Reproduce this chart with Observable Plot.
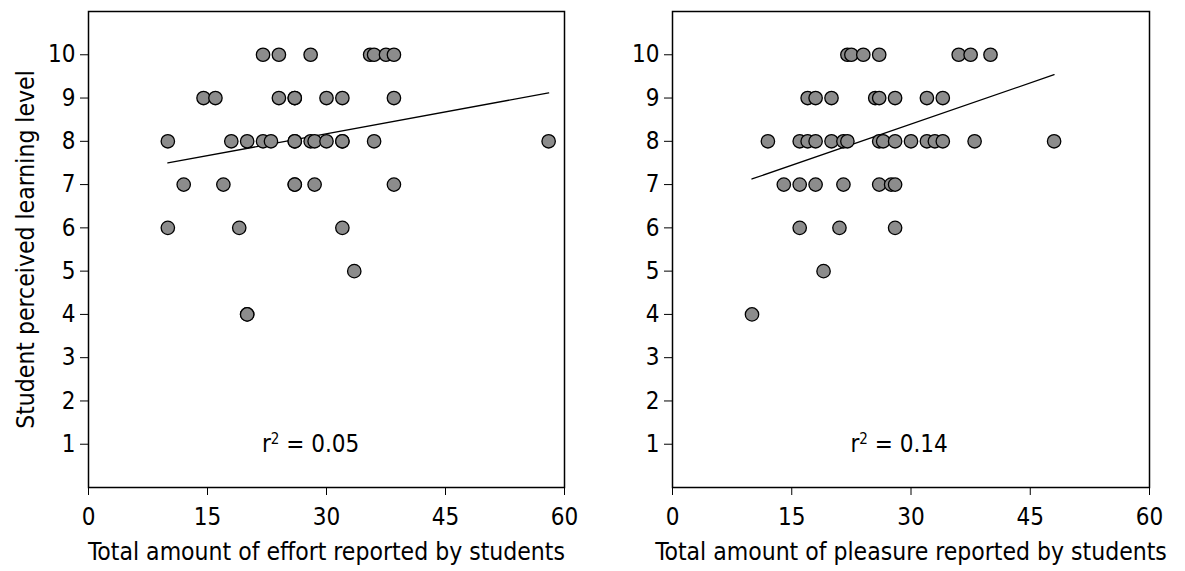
<!DOCTYPE html>
<html><head><meta charset="utf-8">
<script src="https://cdn.jsdelivr.net/npm/d3@7"></script>
<script src="https://cdn.jsdelivr.net/npm/@observablehq/plot@0.6"></script>
<style>
body{margin:0;background:#fff;}
#wrap{display:flex;width:1185px;height:571px;overflow:hidden;}
#wrap svg{display:block;}
</style></head><body><div id="wrap"></div>
<script>
// Panel 1: effort vs perceived learning level
const effortX     = [22,24,28,35.5,36,37.5,38.5, 14.5,16,24,26,26,30,32,38.5, 10,18,20,22,23,26,26,28,28.5,30,32,32,36,58, 12,17,26,26,28.5,38.5, 10,19,32, 33.5, 20,20];
const effortLevel = [10,10,10,10,10,10,10,      9,9,9,9,9,9,9,9,            8,8,8,8,8,8,8,8,8,8,8,8,8,8,            7,7,7,7,7,7,            6,6,6,  5,    4,4];
// Panel 2: pleasure vs perceived learning level
const pleasureX     = [22,22.5,24,26,36,37.5,40, 17,18,20,25.5,26,28,32,34, 12,16,17,18,20,21.5,22,26,26.5,28,30,32,33,34,38,48, 14,16,18,21.5,26,27.5,28, 16,21,28, 19, 10];
const pleasureLevel = [10,10,10,10,10,10,10,     9,9,9,9,9,9,9,9,          8,8,8,8,8,8,8,8,8,8,8,8,8,8,8,8,                7,7,7,7,7,7,7,             6,6,6,    5,  4];
// Fitted regression lines (end points)
const effortFitX = [10, 58];
const effortFitY = [7.5, 9.12];
const pleasureFitX = [10, 48];
const pleasureFitY = [7.13, 9.54];
// Tick labels and texts
const xTicks = [0, 15, 30, 45, 60];
const yTicks = [1, 2, 3, 4, 5, 6, 7, 8, 9, 10];
const yTitle = "Student perceived learning level";
const effortTitle = "Total amount of effort reported by students";
const pleasureTitle = "Total amount of pleasure reported by students";
const effortR2 = "0.05";
const pleasureR2 = "0.14";

const FONT = "'DejaVu Sans Condensed', 'DejaVu Sans', sans-serif";

function panel({xs, ys, fitX, fitY, xTitle, yLab, r2, r2pos, width, ml, mr}) {
  const pts = xs.map((x, i) => ({x, y: ys[i]}));
  const fit = fitX.map((x, i) => ({x, y: fitY[i]}));
  const marks = [
    Plot.frame({stroke: "black", strokeWidth: 1.5}),
    Plot.line(fit, {x: "x", y: "y", stroke: "black", strokeWidth: 1.3}),
    Plot.dot(pts, {x: "x", y: "y", r: 6.7, fill: "#8c8c8c", stroke: "black", strokeWidth: 1.3}),
    Plot.text([{x: r2pos[0], y: r2pos[1], t: "r2 = " + r2}], {x: "x", y: "y", text: "t", fontSize: 24, fill: "black", className: "r2label"}),
    Plot.text([xTitle], {frameAnchor: "bottom", dy: 72, text: d => d, fontSize: 24.5, fill: "black"})
  ];
  if (yLab) marks.push(Plot.text([yLab], {frameAnchor: "left", textAnchor: "middle", dx: -62, rotate: -90, text: d => d, fontSize: 24.5, fill: "black"}));
  const svg = Plot.plot({
    width, height: 571,
    marginLeft: ml, marginRight: mr, marginTop: 11, marginBottom: 84,
    style: {fontFamily: FONT, fontSize: "24px", color: "black", background: "white", overflow: "visible"},
    x: {domain: [0, 60], ticks: xTicks, label: null, tickSize: 8, tickPadding: 12},
    y: {domain: [0, 11], ticks: yTicks, label: null, tickSize: 8, tickPadding: 5},
    marks
  });
  // Render the "2" of r² as a real superscript
  svg.querySelectorAll(".r2label text").forEach(t => {
    const val = t.textContent.split(" = ")[1];
    t.textContent = "";
    const ns = "http://www.w3.org/2000/svg";
    const a = document.createElementNS(ns, "tspan"); a.textContent = "r";
    const b = document.createElementNS(ns, "tspan"); b.textContent = "2";
    b.setAttribute("font-size", "15"); b.setAttribute("dy", "-0.55em");
    const c = document.createElementNS(ns, "tspan"); c.textContent = " = " + val;
    c.setAttribute("dy", "0.35em");
    t.append(a, b, c);
  });
  return svg;
}

const wrap = document.getElementById("wrap");
wrap.appendChild(panel({xs: effortX, ys: effortLevel, fitX: effortFitX, fitY: effortFitY,
  xTitle: effortTitle, yLab: yTitle, r2: effortR2, r2pos: [28, 1], width: 590, ml: 88, mr: 26}));
wrap.appendChild(panel({xs: pleasureX, ys: pleasureLevel, fitX: pleasureFitX, fitY: pleasureFitY,
  xTitle: pleasureTitle, yLab: null, r2: pleasureR2, r2pos: [28.5, 1], width: 595, ml: 82, mr: 36}));
</script></body></html>
